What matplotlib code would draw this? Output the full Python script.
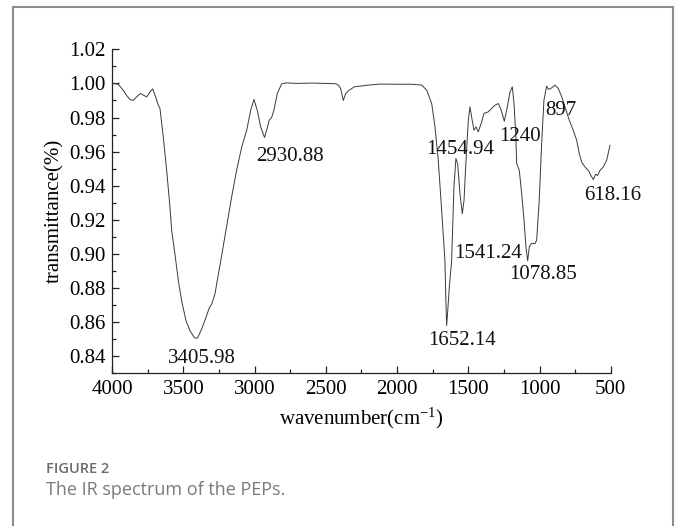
import numpy as np
import matplotlib
matplotlib.use('Agg')
import matplotlib.pyplot as plt
from matplotlib.patches import Rectangle
from matplotlib.ticker import MultipleLocator, FormatStrFormatter

# IR spectrum (wavenumber in cm-1, transmittance)
wavenumber = [4000, 3993, 3958, 3923, 3900, 3876, 3853, 3829, 3801, 3782, 3758, 3735, 3716, 3700,
              3677, 3665, 3642, 3618, 3595, 3583, 3560, 3536, 3513, 3482, 3454, 3424, 3406, 3400,
              3372, 3342, 3319, 3302, 3279, 3263, 3232, 3202, 3162, 3127, 3091, 3056, 3028, 3005,
              2982, 2958, 2931, 2916, 2898, 2881, 2865, 2841, 2810, 2780, 2700, 2600, 2500, 2430,
              2413, 2396, 2378, 2361, 2343, 2300, 2200, 2120, 2000, 1900, 1827, 1792, 1757, 1734,
              1711, 1687, 1664, 1658, 1652, 1645, 1632, 1617, 1601, 1587, 1575, 1558, 1542, 1530,
              1516, 1500, 1488, 1474, 1460, 1446, 1430, 1406, 1390, 1360, 1336, 1313, 1290, 1273,
              1247, 1226, 1207, 1191, 1179, 1167, 1160, 1142, 1125, 1109, 1095, 1083, 1072, 1055,
              1032, 1020, 1002, 985, 969, 950, 938, 921, 891, 868, 844, 821, 791, 763, 739, 721,
              704, 681, 657, 639, 622, 606, 592, 575, 552, 528, 505]
transmittance = [1.000, 1.000, 0.9995, 0.996, 0.993, 0.9906, 0.990, 0.9921, 0.9941, 0.9931, 0.9921,
                 0.995, 0.9968, 0.9931, 0.9873, 0.9853, 0.9686, 0.949, 0.9275, 0.9138, 0.900, 0.8843,
                 0.8725, 0.8608, 0.8549, 0.851, 0.8505, 0.851, 0.856, 0.8627, 0.8683, 0.8706, 0.8765,
                 0.8843, 0.899, 0.9138, 0.9333, 0.949, 0.9627, 0.9725, 0.9843, 0.9906, 0.9843, 0.9745,
                 0.9683, 0.9725, 0.9784, 0.980, 0.9843, 0.9941, 0.9998, 1.0003, 1.000, 1.0002, 1.000,
                 0.9998, 0.999, 0.997, 0.990, 0.994, 0.9956, 0.998, 0.999, 0.9996, 0.9995, 0.9995,
                 0.999, 0.996, 0.9882, 0.9745, 0.955, 0.9255, 0.896, 0.874, 0.858, 0.866, 0.882, 0.896,
                 0.939, 0.956, 0.953, 0.935, 0.9236, 0.9314, 0.955, 0.9784, 0.9862, 0.979, 0.9725,
                 0.9745, 0.9716, 0.9774, 0.9824, 0.9833, 0.9853, 0.9872, 0.9882, 0.9853, 0.9778,
                 0.9862, 0.995, 0.998, 0.9882, 0.9706, 0.953, 0.949, 0.9353, 0.920, 0.904, 0.896,
                 0.904, 0.9063, 0.906, 0.908, 0.9314, 0.9647, 0.990, 0.9984, 0.9965, 0.997, 0.999,
                 0.997, 0.9921, 0.9862, 0.9784, 0.9725, 0.9667, 0.9588, 0.9539, 0.951, 0.949, 0.946,
                 0.9436, 0.9467, 0.946, 0.949, 0.951, 0.955, 0.9637]

# peak labels and where their text sits
peak_labels = ['3405.98', '2930.88', '1652.14', '1541.24', '1454.94', '1240', '1078.85', '897', '618.16']
label_x = [3370, 2749, 1543, 1360, 1558, 1137, 973, 849, 484]
label_y = [0.8388, 0.9573, 0.8494, 0.9005, 0.9614, 0.969, 0.8879, 0.984, 0.934]

plt.rcParams['font.family'] = ['Liberation Serif', 'DejaVu Serif']
plt.rcParams['mathtext.fontset'] = 'custom'
plt.rcParams['mathtext.rm'] = 'Liberation Serif'
plt.rcParams['mathtext.it'] = 'Liberation Serif:italic'

fig = plt.figure(figsize=(6.8, 5.26), dpi=100)
ax = fig.add_axes([0.1651, 0.2903, 0.733, 0.616])

ax.plot(wavenumber, transmittance, color='#3a3a3a', lw=0.7)

for txt, x, y in zip(peak_labels, label_x, label_y):
    ax.text(x, y, txt, fontsize=15, ha='center', va='center', color='#111111')

ax.set_xlim(4000, 500)
ax.set_ylim(0.83, 1.02)
ax.xaxis.set_major_locator(MultipleLocator(500))
ax.xaxis.set_minor_locator(MultipleLocator(250))
ax.yaxis.set_minor_locator(MultipleLocator(0.01))
ax.yaxis.set_major_formatter(FormatStrFormatter('%.2f'))
ax.set_yticks([0.84, 0.86, 0.88, 0.90, 0.92, 0.94, 0.96, 0.98, 1.00, 1.02])

ax.tick_params(which='both', direction='in', labelsize=15, color='#222222', width=0.9)
ax.tick_params(which='major', length=5, pad=5)
ax.tick_params(which='minor', length=3)
for side in ['top', 'right']:
    ax.spines[side].set_visible(False)
for side in ['left', 'bottom']:
    ax.spines[side].set_linewidth(0.9)
    ax.spines[side].set_color('#222222')

ax.set_xlabel('wavenumber(cm$^{-1}$)', fontsize=15, labelpad=5)
ax.set_ylabel('transmittance(%)', fontsize=15, labelpad=3)

# card frame and caption
frame = Rectangle((13 / 680, -0.05), 660 / 680, 1.05 - 7 / 526, transform=fig.transFigure,
                  fill=False, edgecolor='#8c8c8c', lw=1.5, clip_on=False)
fig.patches.append(frame)
fig.text(46 / 680, 1 - 469 / 526, 'FIGURE 2', family='Open Sans', fontsize=10.5, weight='semibold',
         color='#6b6b6b', ha='left', va='center')
fig.text(46 / 680, 1 - 490 / 526, 'The IR spectrum of the PEPs.', family='Open Sans', fontsize=13,
         color='#7a7a7a', ha='left', va='center')

fig.savefig('out.png', dpi=100)
